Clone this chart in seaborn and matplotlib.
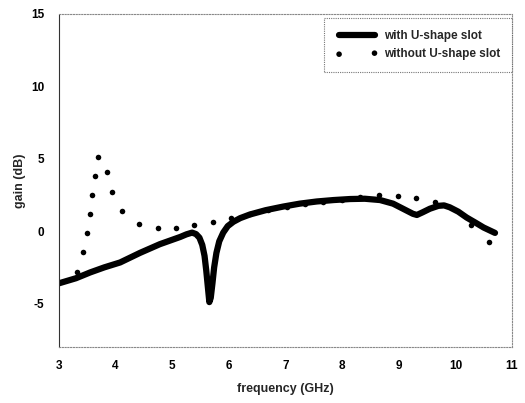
import matplotlib
matplotlib.use("Agg")
import matplotlib.pyplot as plt
import seaborn as sns
import pandas as pd

# with U-shape slot (solid line)
freq_with = [3.0, 3.3, 3.55, 3.8, 4.08, 4.43, 4.78, 5.14, 5.25, 5.35, 5.42, 5.48,
             5.53, 5.57, 5.60, 5.63, 5.655, 5.68, 5.71, 5.74, 5.78, 5.83, 5.90, 5.98,
             6.08, 6.20, 6.37, 6.65, 6.96, 7.25, 7.55, 7.85, 8.14, 8.40, 8.67, 8.90,
             9.10, 9.25, 9.32, 9.42, 9.55, 9.70, 9.80, 9.90, 10.05, 10.20, 10.35,
             10.50, 10.70]
gain_with = [-3.6, -3.25, -2.85, -2.5, -2.16, -1.5, -0.9, -0.4, -0.22, -0.1, -0.2, -0.45,
             -0.95, -1.7, -2.7, -3.9, -4.9, -4.6, -3.6, -2.5, -1.5, -0.7, -0.1, 0.35,
             0.65, 0.9, 1.15, 1.45, 1.7, 1.9, 2.05, 2.15, 2.22, 2.24,
             2.15, 1.9, 1.5, 1.2, 1.12, 1.3, 1.55, 1.75, 1.78, 1.65, 1.35, 0.94, 0.6,
             0.25, -0.12]

# without U-shape slot (dots)
freq_without = [3.32, 3.42, 3.49, 3.54, 3.58, 3.63, 3.68, 3.84, 3.93, 4.12, 4.42, 4.74,
                5.07, 5.39, 5.72, 6.04, 6.37, 6.69, 7.02, 7.35, 7.67, 8.00, 8.32, 8.65,
                8.99, 9.31, 9.64, 10.27, 10.59]
gain_without = [-2.8, -1.47, -0.16, 1.17, 2.48, 3.79, 5.12, 4.07, 2.71, 1.4, 0.52, 0.25,
                0.25, 0.41, 0.64, 0.94, 1.2, 1.45, 1.65, 1.85, 2.0, 2.15, 2.39, 2.47,
                2.46, 2.3, 2.02, 0.46, -0.72]

x_ticks = [3, 4, 5, 6, 7, 8, 9, 10, 11]
y_ticks = [-5, 0, 5, 10, 15]

sns.set_theme(style="white")
plt.rcParams['font.family'] = ['Liberation Sans', 'DejaVu Sans']
plt.rcParams['font.weight'] = 'bold'

fig = plt.figure(figsize=(5.25, 4.03), dpi=100)
ax = fig.add_axes([59/525, 1 - 347/403, (512-59)/525, (347-14)/403])

df_with = pd.DataFrame({"freq": freq_with, "gain": gain_with})
df_without = pd.DataFrame({"freq": freq_without, "gain": gain_without})

sns.lineplot(data=df_with, x="freq", y="gain", ax=ax, color="black", linewidth=4.5,
             label="with U-shape slot", sort=False, solid_capstyle="round",
             solid_joinstyle="round")
sns.scatterplot(data=df_without, x="freq", y="gain", ax=ax, color="black", s=16,
                edgecolor="black", linewidth=0, label="without U-shape slot", zorder=3)

ax.set_xlim(3, 11)
ax.set_ylim(-8, 15)
ax.set_xticks(x_ticks)
ax.set_yticks(y_ticks)
ax.set_xticklabels([str(t) for t in x_ticks], fontsize=8.5, fontweight='bold')
ax.set_yticklabels([str(t) for t in y_ticks], fontsize=8.5, fontweight='bold')
ax.tick_params(axis='both', direction='inout', length=3, width=0.8, colors='black')
ax.tick_params(axis='x', pad=8)
ax.tick_params(axis='y', pad=9)
ax.set_xlabel("frequency (GHz)", fontsize=9, fontweight='bold', labelpad=8)
ax.set_ylabel("gain (dB)", fontsize=9, fontweight='bold', labelpad=4)

for side in ['top', 'right', 'bottom']:
    ax.spines[side].set_color('#888888')
    ax.spines[side].set_linestyle((0, (1, 1.5)))
    ax.spines[side].set_linewidth(0.8)
ax.spines['left'].set_color('#333333')
ax.spines['left'].set_linestyle((0, (3, 1)))
ax.spines['left'].set_linewidth(0.8)

leg = ax.legend(loc='upper right', bbox_to_anchor=(1.0, 0.988), frameon=True,
                fancybox=False, fontsize=8.5, handlelength=3.6, numpoints=2,
                scatterpoints=2, borderpad=1.0, labelspacing=0.55, handletextpad=0.5,
                borderaxespad=0.0)
leg.get_frame().set_edgecolor('#555555')
leg.get_frame().set_linestyle((0, (1, 1)))
leg.get_frame().set_linewidth(0.8)
for t in leg.get_texts():
    t.set_fontweight('bold')

fig.savefig("out.png", dpi=100)
